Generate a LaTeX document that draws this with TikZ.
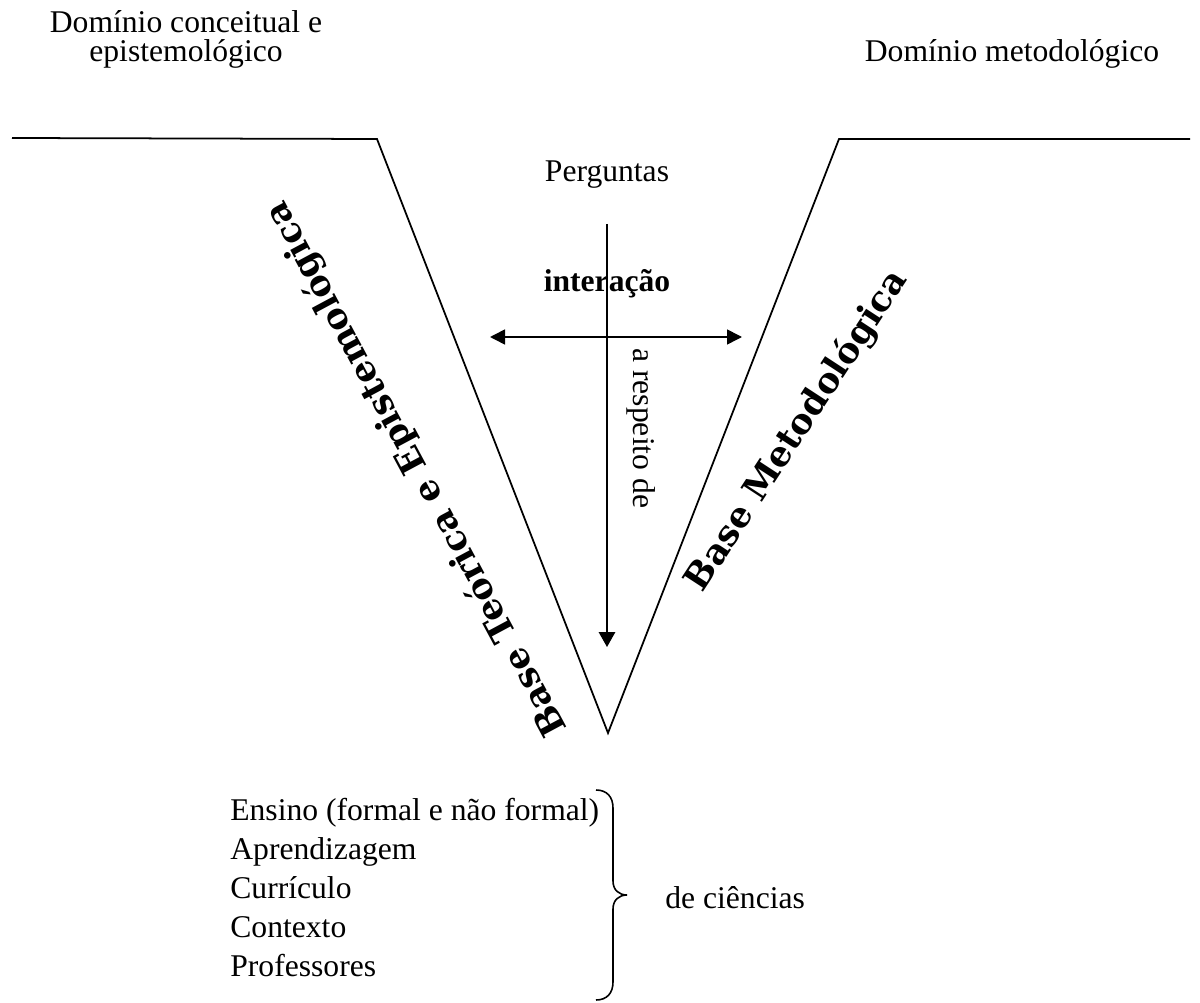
\documentclass[tikz,border=0pt]{standalone}
\usepackage{fontspec}
\setmainfont{Liberation Serif}
\newfontfamily\vfont{DejaVu Serif}
\usetikzlibrary{arrows.meta}

\begin{document}
\begin{tikzpicture}[x=0.02cm, y=-0.02cm,
    txt/.style={inner sep=0pt, font=\fontsize{18}{22}\selectfont},
    basetxt/.style={inner sep=0pt, font=\vfont\bfseries\fontsize{20}{24}\selectfont},
    seta/.style={line width=0.9pt, -{Triangle[length=0.3cm, width=0.33cm]}},
    seta2/.style={line width=0.9pt, {Triangle[length=0.3cm, width=0.3cm]}-{Triangle[length=0.3cm, width=0.3cm]}}]
    \useasboundingbox (0,0) rectangle (1200,1003);
    % o V
    \coordinate (e1) at (12,138);
    \coordinate (e2) at (377,139);
    \coordinate (v) at (608,733);
    \coordinate (d2) at (839,139);
    \coordinate (d1) at (1190,139);
    \draw [line width=1pt] (e1) -- (e2) -- (v) -- (d2) -- (d1);
    % dominios
    \node [txt, anchor=base] (dom1a) at (186,33) {Domínio conceitual e};
    \node [txt, anchor=base] (dom1b) at (186,62) {epistemológico};
    \node [txt, anchor=base] (dom2) at (1012,62) {Domínio metodológico};
    % centro
    \node [txt, anchor=base] (perg) at (607,182) {Perguntas};
    \node [txt, anchor=base, font=\fontsize{18}{22}\selectfont\bfseries] (inter) at (607,292) {interação};
    \node [txt, anchor=base west, rotate=-90] (resp) at (633,348) {a respeito de};
    \coordinate (qtop) at (607,224);
    \coordinate (qbot) at (607,647);
    \draw [seta] (qtop) -- (qbot);
    \coordinate (hl) at (490,337);
    \coordinate (hr) at (742,337);
    \draw [seta2] (hl) -- (hr);
    % bases
    \node [basetxt, rotate=56.8] (bmet) at (797,431) {Base Metodológica};
    \node [basetxt, rotate=118.2] (bteo) at (417,469) {Base Teórica e Epistemológica};
    % lista
    \node [txt, anchor=north west, align=left, font=\fontsize{18}{22.2}\selectfont] (lista) at (230,798)
        {Ensino (formal e não formal)\\Aprendizagem\\Currículo\\Contexto\\Professores};
    \coordinate (btop) at (596,790);
    \coordinate (bbot) at (596,1000);
    \coordinate (bpt) at (627,895);
    \draw [line width=0.9pt] (btop) .. controls (607,790) and (613,797) .. (613,808)
        -- (613,881) .. controls (613,890) and (619,895) .. (bpt)
        .. controls (619,895) and (613,900) .. (613,909)
        -- (613,982) .. controls (613,993) and (607,1000) .. (bbot);
    \node [txt, anchor=base west] (cien) at (665,908) {de ciências};
\end{tikzpicture}
\end{document}
